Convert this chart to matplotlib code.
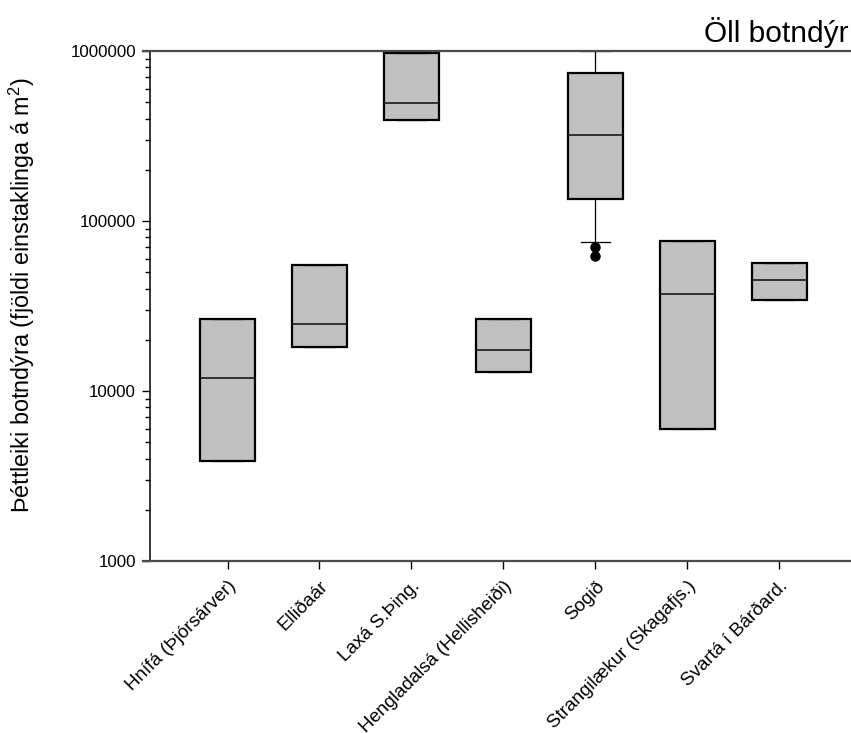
import matplotlib
matplotlib.use("Agg")
import matplotlib.pyplot as plt
from matplotlib.ticker import LogLocator, FixedLocator, FuncFormatter, NullFormatter

plt.rcParams['font.family'] = ['Liberation Sans', 'DejaVu Sans']
plt.rcParams['mathtext.fontset'] = 'custom'
plt.rcParams['mathtext.rm'] = 'Liberation Sans'
plt.rcParams['mathtext.it'] = 'Liberation Sans:italic'

categories = ["Hnífá (Þjórsárver)", "Elliðaár", "Laxá S.Þing.", "Hengladalsá (Hellisheiði)",
              "Sogið", "Strangilækur (Skagafjs.)", "Svartá í Bárðard."]
q1 = [3890, 18150, 392800, 12940, 135300, 6000, 34300]
med = [11910, 24660, 497000, 17350, 320500, 37200, 44800]
q3 = [26500, 55300, 977000, 26600, 745000, 76300, 56900]
whislo = [3890, 18150, 392800, 12940, 75200, 6000, 34300]
whishi = [26500, 55300, 977000, 26600, 1000000, 76300, 56900]
fliers = [[], [], [], [], [70000, 62200], [], []]
yticks = [1000, 10000, 100000, 1000000]
title = "Öll botndýr"
ylabel = r"Þéttleiki botndýra (fjöldi einstaklinga á m$\mathregular{^2}$)"

W, H = 851, 733
fig = plt.figure(figsize=(W / 100, H / 100), dpi=100)
ax = fig.add_axes([150 / W, 1 - 561 / H, 1 - 150 / W, (561 - 51) / H])

positions = list(range(1, len(categories) + 1))
stats = []
for i in range(len(categories)):
    stats.append(dict(label=categories[i], q1=q1[i], med=med[i], q3=q3[i],
                      whislo=whislo[i], whishi=whishi[i], fliers=fliers[i]))

ax.bxp(stats, positions=positions, widths=0.6, capwidths=0.31, patch_artist=True,
       boxprops=dict(facecolor='#c0c0c0', edgecolor='black', linewidth=1.6),
       medianprops=dict(color='#1a1a1a', linewidth=1.2),
       whiskerprops=dict(color='black', linewidth=0.9),
       capprops=dict(color='black', linewidth=0.9),
       flierprops=dict(marker='o', markerfacecolor='black', markeredgecolor='black',
                       markersize=6.5))

ax.set_yscale('log')
ax.set_ylim(1000, 1000000)
xmin = 1 + (150 - 227.5) / 91.95
xmax = 1 + (851 - 227.5) / 91.95
ax.set_xlim(xmin, xmax)

ax.yaxis.set_major_locator(FixedLocator(yticks))
ax.yaxis.set_major_formatter(FuncFormatter(lambda v, p: f"{int(round(v))}"))
ax.yaxis.set_minor_locator(LogLocator(base=10, subs=range(2, 10)))
ax.yaxis.set_minor_formatter(NullFormatter())

ax.set_xticks(positions)
ax.set_xticklabels(categories, rotation=45, ha='right', va='top', rotation_mode='anchor',
                   fontsize=13.5)
ax.tick_params(axis='x', which='major', direction='out', length=6, width=1, pad=6)
ax.tick_params(axis='y', which='major', direction='out', length=6, width=1, labelsize=12.2, pad=4)
ax.tick_params(axis='y', which='minor', direction='out', length=3.5, width=1)

ax.spines['right'].set_visible(False)
ax.spines['left'].set_color('black')
ax.spines['left'].set_linewidth(1.1)
ext = 7.5 / 91.95
for s in ('top', 'bottom'):
    ax.spines[s].set_color('#4a4a4a')
    ax.spines[s].set_linewidth(1.6)
    ax.spines[s].set_bounds(xmin - ext, xmax)

ax.set_ylabel(ylabel, fontsize=16.8)
ax.yaxis.set_label_coords((37 - 150) / (W - 150), (561 - 295) / 510)

fig.text(848 / W, 1 - 42 / H, title, ha='right', va='baseline', fontsize=21.5)

fig.savefig("out.png", dpi=100)
